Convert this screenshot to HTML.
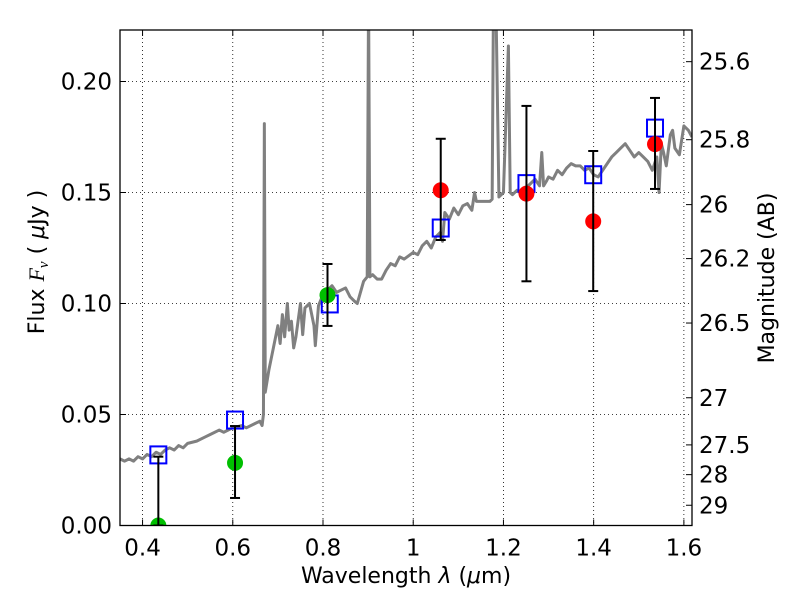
<!DOCTYPE html>
<html><head><meta charset="utf-8"><style>
html,body{margin:0;padding:0;background:#fff}
svg{display:block;font-family:"DejaVu Sans","Liberation Sans",sans-serif}
</style></head><body>
<svg id="c" width="800" height="600" xmlns="http://www.w3.org/2000/svg"></svg>
<script>
const specLam=[0.35,0.36,0.37,0.38,0.39,0.40,0.41,0.42,0.43,0.44,0.45,0.46,0.47,0.48,0.49,0.50,0.52,0.54,0.55,0.57,0.58,0.60,0.62,0.63,0.65,0.66,0.665,0.668,0.670,0.672,0.68,0.685,0.69,0.70,0.705,0.71,0.715,0.721,0.725,0.73,0.735,0.74,0.75,0.755,0.76,0.77,0.78,0.783,0.79,0.80,0.81,0.82,0.83,0.85,0.86,0.87,0.876,0.89,0.898,0.901,0.904,0.91,0.92,0.93,0.94,0.95,0.96,0.97,0.98,1.0,1.01,1.02,1.03,1.04,1.05,1.06,1.065,1.07,1.08,1.09,1.10,1.11,1.12,1.13,1.136,1.14,1.15,1.17,1.175,1.178,1.183,1.19,1.20,1.211,1.215,1.22,1.23,1.24,1.25,1.26,1.27,1.28,1.285,1.289,1.295,1.30,1.31,1.32,1.33,1.34,1.35,1.36,1.37,1.38,1.39,1.40,1.41,1.42,1.43,1.44,1.45,1.46,1.47,1.48,1.49,1.50,1.51,1.52,1.53,1.54,1.545,1.55,1.555,1.561,1.57,1.575,1.58,1.59,1.60,1.61,1.618];
const specF=[0.030,0.029,0.030,0.029,0.031,0.030,0.032,0.031,0.033,0.032,0.034,0.035,0.034,0.036,0.035,0.037,0.038,0.040,0.041,0.043,0.042,0.044,0.045,0.044,0.046,0.047,0.045,0.050,0.181,0.060,0.070,0.075,0.080,0.090,0.082,0.095,0.085,0.100,0.088,0.092,0.080,0.085,0.100,0.086,0.098,0.100,0.090,0.081,0.099,0.104,0.106,0.108,0.105,0.107,0.103,0.101,0.100,0.110,0.112,0.24,0.112,0.113,0.111,0.111,0.115,0.118,0.117,0.121,0.120,0.123,0.122,0.126,0.128,0.125,0.130,0.132,0.128,0.141,0.138,0.143,0.140,0.144,0.145,0.142,0.150,0.146,0.146,0.146,0.147,0.24,0.24,0.148,0.150,0.216,0.150,0.149,0.151,0.150,0.152,0.154,0.156,0.153,0.168,0.153,0.155,0.157,0.156,0.160,0.158,0.161,0.163,0.162,0.162,0.160,0.161,0.158,0.157,0.160,0.163,0.166,0.168,0.170,0.172,0.169,0.166,0.168,0.166,0.164,0.160,0.166,0.150,0.172,0.168,0.162,0.176,0.178,0.170,0.167,0.180,0.178,0.175];
const modelLam=[0.435,0.605,0.815,1.061,1.251,1.399,1.536];
const modelF=[0.0318,0.0475,0.0998,0.134,0.154,0.158,0.179];
const redLam=[1.061,1.251,1.399,1.536];
const redF=[0.151,0.1495,0.137,0.1718];
const redLo=[0.1286,0.110,0.1056,0.1516];
const redHi=[0.1742,0.189,0.1687,0.1926];
const greenLam=[0.435,0.605,0.810];
const greenF=[0.0,0.0282,0.1038];
const greenLo=[0.0,0.0124,0.0899];
const greenHi=[0.031,0.0448,0.1178];
const xTicks=[0.4,0.6,0.8,1.0,1.2,1.4,1.6];
const xTickLabels=["0.4","0.6","0.8","1","1.2","1.4","1.6"];
const yTicks=[0,0.05,0.10,0.15,0.20];
const yTickLabels=["0.00","0.05","0.10","0.15","0.20"];
const magTicks=[25.6,25.8,26,26.2,26.5,27,27.5,28,29];
const magLabels=["25.6","25.8","26","26.2","26.5","27","27.5","28","29"];

const L=120,R=692,T=30,B=525.5;
const x0=0.35,x1=1.618,y0=0,y1=(B-T)/2220;
const X=v=>L+(v-x0)/(x1-x0)*(R-L);
const Y=v=>B-(v-y0)/(y1-y0)*(B-T);
const svg=document.getElementById('c');
const NS="http://www.w3.org/2000/svg";
function mk(t,a,p){const e=document.createElementNS(NS,t);for(const k in a)e.setAttribute(k,a[k]);(p||svg).appendChild(e);return e;}

const clip=mk('clipPath',{id:'pc'});mk('rect',{x:L,y:T,width:R-L,height:B-T},clip);

xTicks.forEach((v,i)=>{
 const g=mk('line',{x1:X(v),x2:X(v),y1:T,y2:B,stroke:'#000','stroke-width':0.8,'stroke-dasharray':'1,3'});
 
 
 mk('line',{x1:X(v),x2:X(v),y1:B,y2:B-6,stroke:'#000'});
 mk('line',{x1:X(v),x2:X(v),y1:T,y2:T+6,stroke:'#000'});
 const t=mk('text',{x:X(v),y:B+30,'text-anchor':'middle','font-size':23});
 t.textContent=xTickLabels[i];
 
 
});
yTicks.forEach((v,i)=>{
 const g=mk('line',{x1:L,x2:R,y1:Y(v),y2:Y(v),stroke:'#000','stroke-width':0.8,'stroke-dasharray':'1,3'});
 
 
 mk('line',{x1:L,x2:L+6,y1:Y(v),y2:Y(v),stroke:'#000'});
 const t=mk('text',{x:112,y:Y(v)+8,'text-anchor':'end','font-size':23});
 t.textContent=yTickLabels[i];
 
 
});
magTicks.forEach((m,i)=>{
 const f=Math.pow(10,(23.9-m)/2.5);
 mk('line',{x1:R,x2:R-6,y1:Y(f),y2:Y(f),stroke:'#000'});
 const t=mk('text',{x:699,y:Y(f)+8,'font-size':23});
 t.textContent=magLabels[i];
 
 
});

const g=mk('g',{'clip-path':'url(#pc)'});
const sp=mk('polyline',{points:specLam.map((l,i)=>X(l)+','+Y(specF[i])).join(' '),fill:'none',stroke:'#808080','stroke-width':3,'stroke-linejoin':'round'},g);



modelLam.forEach((l,i)=>{
 const r=mk('rect',{x:X(l)-8,y:Y(modelF[i])-8.5,width:16,height:17,fill:'none',stroke:'#0000ff','stroke-width':2},g);
 
 
});
function pts(lam,f,lo,hi,col,name){
 lam.forEach((l,i)=>{
  const c=mk('circle',{cx:X(l),cy:Y(f[i]),r:8,fill:col},g);
  
  
 });
 lam.forEach((l,i)=>{
  const e=mk('g',{stroke:'#000','stroke-width':2},g);
  
  
  mk('line',{x1:X(l),x2:X(l),y1:Y(lo[i]),y2:Y(hi[i])},e);
  mk('line',{x1:X(l)-5,x2:X(l)+5,y1:Y(lo[i]),y2:Y(lo[i])},e);
  mk('line',{x1:X(l)-5,x2:X(l)+5,y1:Y(hi[i]),y2:Y(hi[i])},e);
 });
}
pts(greenLam,greenF,greenLo,greenHi,'#00bf00','green-data-point');
pts(redLam,redF,redLo,redHi,'#ff0000','red-data-point');

const fr=mk('rect',{x:L,y:T,width:R-L,height:B-T,fill:'none',stroke:'#000','stroke-width':1.3});



const xl=mk('text',{x:406,y:583,'text-anchor':'middle','font-size':22});
xl.innerHTML='Wavelength  <tspan font-style="italic">λ</tspan> (<tspan font-style="italic">μ</tspan>m)';


const yl=mk('text',{x:0,y:0,'text-anchor':'middle','font-size':22,transform:'translate(44,262) rotate(-90)'});
yl.innerHTML='Flux  <tspan font-family="Liberation Serif" font-style="italic">F</tspan><tspan font-family="Liberation Serif" font-style="italic" font-size="15" dy="4">ν</tspan><tspan dy="-4">  (  </tspan><tspan font-style="italic">μ</tspan>Jy )';


const rl=mk('text',{x:0,y:0,'text-anchor':'middle','font-size':22,transform:'translate(774,278) rotate(-90)'});
rl.textContent='Magnitude (AB)';


</script>
</body></html>
